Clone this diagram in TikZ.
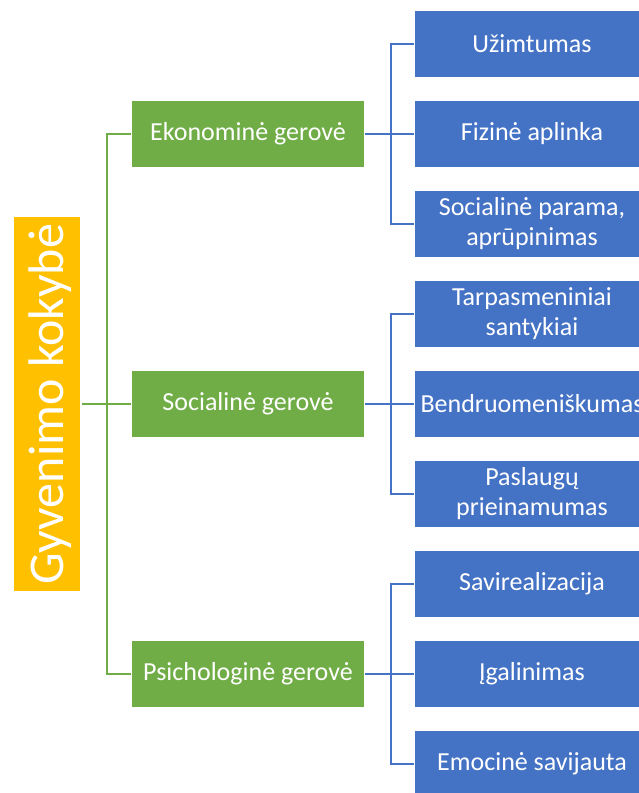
\documentclass[tikz,border=0pt]{standalone}
\usepackage{fontspec}
\setmainfont{Carlito}
\definecolor{ygold}{HTML}{FFC000}
\definecolor{ggreen}{HTML}{70AD47}
\definecolor{bblue}{HTML}{4472C4}
\begin{document}
\begin{tikzpicture}[x=1pt,y=-1pt,
  box/.style={draw=white, line width=1.5pt, minimum height=68pt, text=white,
    font=\fontsize{26}{30}\selectfont, align=center, inner sep=0pt},
  gbox/.style={box, fill=ggreen, minimum width=233pt},
  bbox/.style={box, fill=bblue, minimum width=235pt},
  gline/.style={draw=ggreen, line width=2pt},
  bline/.style={draw=bblue, line width=2pt}]
\useasboundingbox (0,0) rectangle (639,793);
\clip (0,0) rectangle (639,793);
% root (rotated: its south anchor is on the right side)
\node[box, fill=ygold, rotate=90, minimum width=376pt, minimum height=68pt,
  font=\fontsize{50}{60}\selectfont, text height=32pt, text depth=0pt]
  (root) at (47,404) {Gyvenimo kokybė};
% level 1
\node[gbox] (eko) at (248,134) {Ekonominė gerovė};
\node[gbox] (soc) at (248,404) {Socialinė gerovė};
\node[gbox] (psi) at (248,674) {Psichologinė gerovė};
% level 2
\node[bbox] (u1) at (532,44)  {Užimtumas};
\node[bbox] (u2) at (532,134) {Fizinė aplinka};
\node[bbox] (u3) at (532,224) {Socialinė parama,\\aprūpinimas};
\node[bbox] (s1) at (532,314) {Tarpasmeniniai\\santykiai};
\node[bbox] (s2) at (532,404) {Bendruomeniškumas};
\node[bbox] (s3) at (532,494) {Paslaugų\\prieinamumas};
\node[bbox] (p1) at (532,584) {Savirealizacija};
\node[bbox] (p2) at (532,674) {Įgalinimas};
\node[bbox] (p3) at (532,764) {Emocinė savijauta};
% green connectors
\draw[gline] (root.south) -- ++(25,0) coordinate (gj);
\draw[gline] (eko.west) -| (gj);
\draw[gline] (soc.west) -| (gj);
\draw[gline] (psi.west) -| (gj);
% blue connectors
\draw[bline] (eko.east) -- ++(26,0) coordinate (j1);
\draw[bline] (u1.west) -| (j1);
\draw[bline] (u2.west) -| (j1);
\draw[bline] (u3.west) -| (j1);
\draw[bline] (soc.east) -- ++(26,0) coordinate (j2);
\draw[bline] (s1.west) -| (j2);
\draw[bline] (s2.west) -| (j2);
\draw[bline] (s3.west) -| (j2);
\draw[bline] (psi.east) -- ++(26,0) coordinate (j3);
\draw[bline] (p1.west) -| (j3);
\draw[bline] (p2.west) -| (j3);
\draw[bline] (p3.west) -| (j3);
\end{tikzpicture}
\end{document}
